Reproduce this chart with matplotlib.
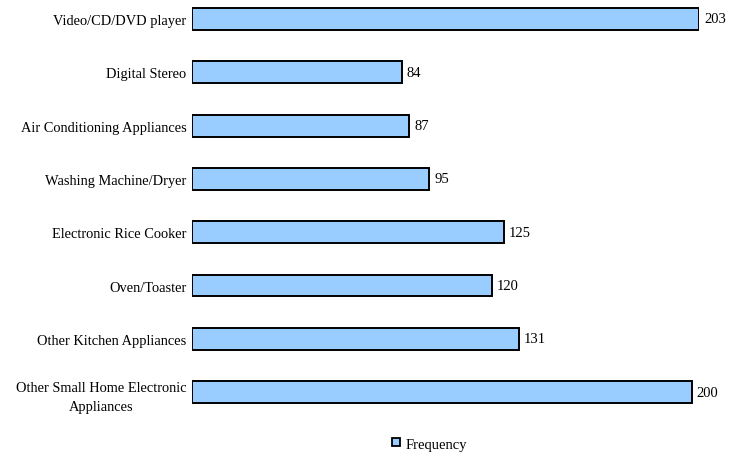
import matplotlib
matplotlib.use("Agg")
import matplotlib.pyplot as plt
from matplotlib.lines import Line2D

categories = ["Video/CD/DVD player", "Digital Stereo", "Air Conditioning Appliances",
              "Washing Machine/Dryer", "Electronic Rice Cooker", "Oven/Toaster",
              "Other Kitchen Appliances", "Other Small Home Electronic\nAppliances"]
frequency = [203, 84, 87, 95, 125, 120, 131, 200]

plt.rcParams['font.family'] = ['Liberation Serif', 'DejaVu Serif']

fig = plt.figure(figsize=(7.3, 4.6), dpi=100)
W, H = 730, 460
ax = fig.add_axes([192 / W, 1 - 415 / H, (699 - 192) / W, 415 / H])

pos = list(range(len(categories)))
bars = ax.barh(pos, frequency, height=0.41, color='#99CCFF', edgecolor='black', linewidth=1.4)
ax.set_xlim(0, 203)
ax.set_ylim(7.41, -0.375)

for b, v in zip(bars, frequency):
    ax.text(b.get_width() + 2, b.get_y() + b.get_height() / 2, str(v),
            va='center', ha='left', fontsize=10.5)

ax.set_yticks(pos)
ax.set_yticklabels(categories, fontsize=10.4, multialignment='center', linespacing=1.6)
ax.tick_params(axis='y', length=0, pad=4)
ax.set_xticks([])
for s in ax.spines.values():
    s.set_visible(False)

handle = Line2D([], [], marker='s', linestyle='none', markersize=5.5,
                markerfacecolor='#99CCFF', markeredgecolor='black', markeredgewidth=1.3)
fig.legend([handle], ['Frequency'], loc='center', bbox_to_anchor=(428 / W, 1 - 445 / H),
           frameon=False, fontsize=10.5, handletextpad=0.2, handlelength=1)

fig.savefig("out.png", dpi=100)
